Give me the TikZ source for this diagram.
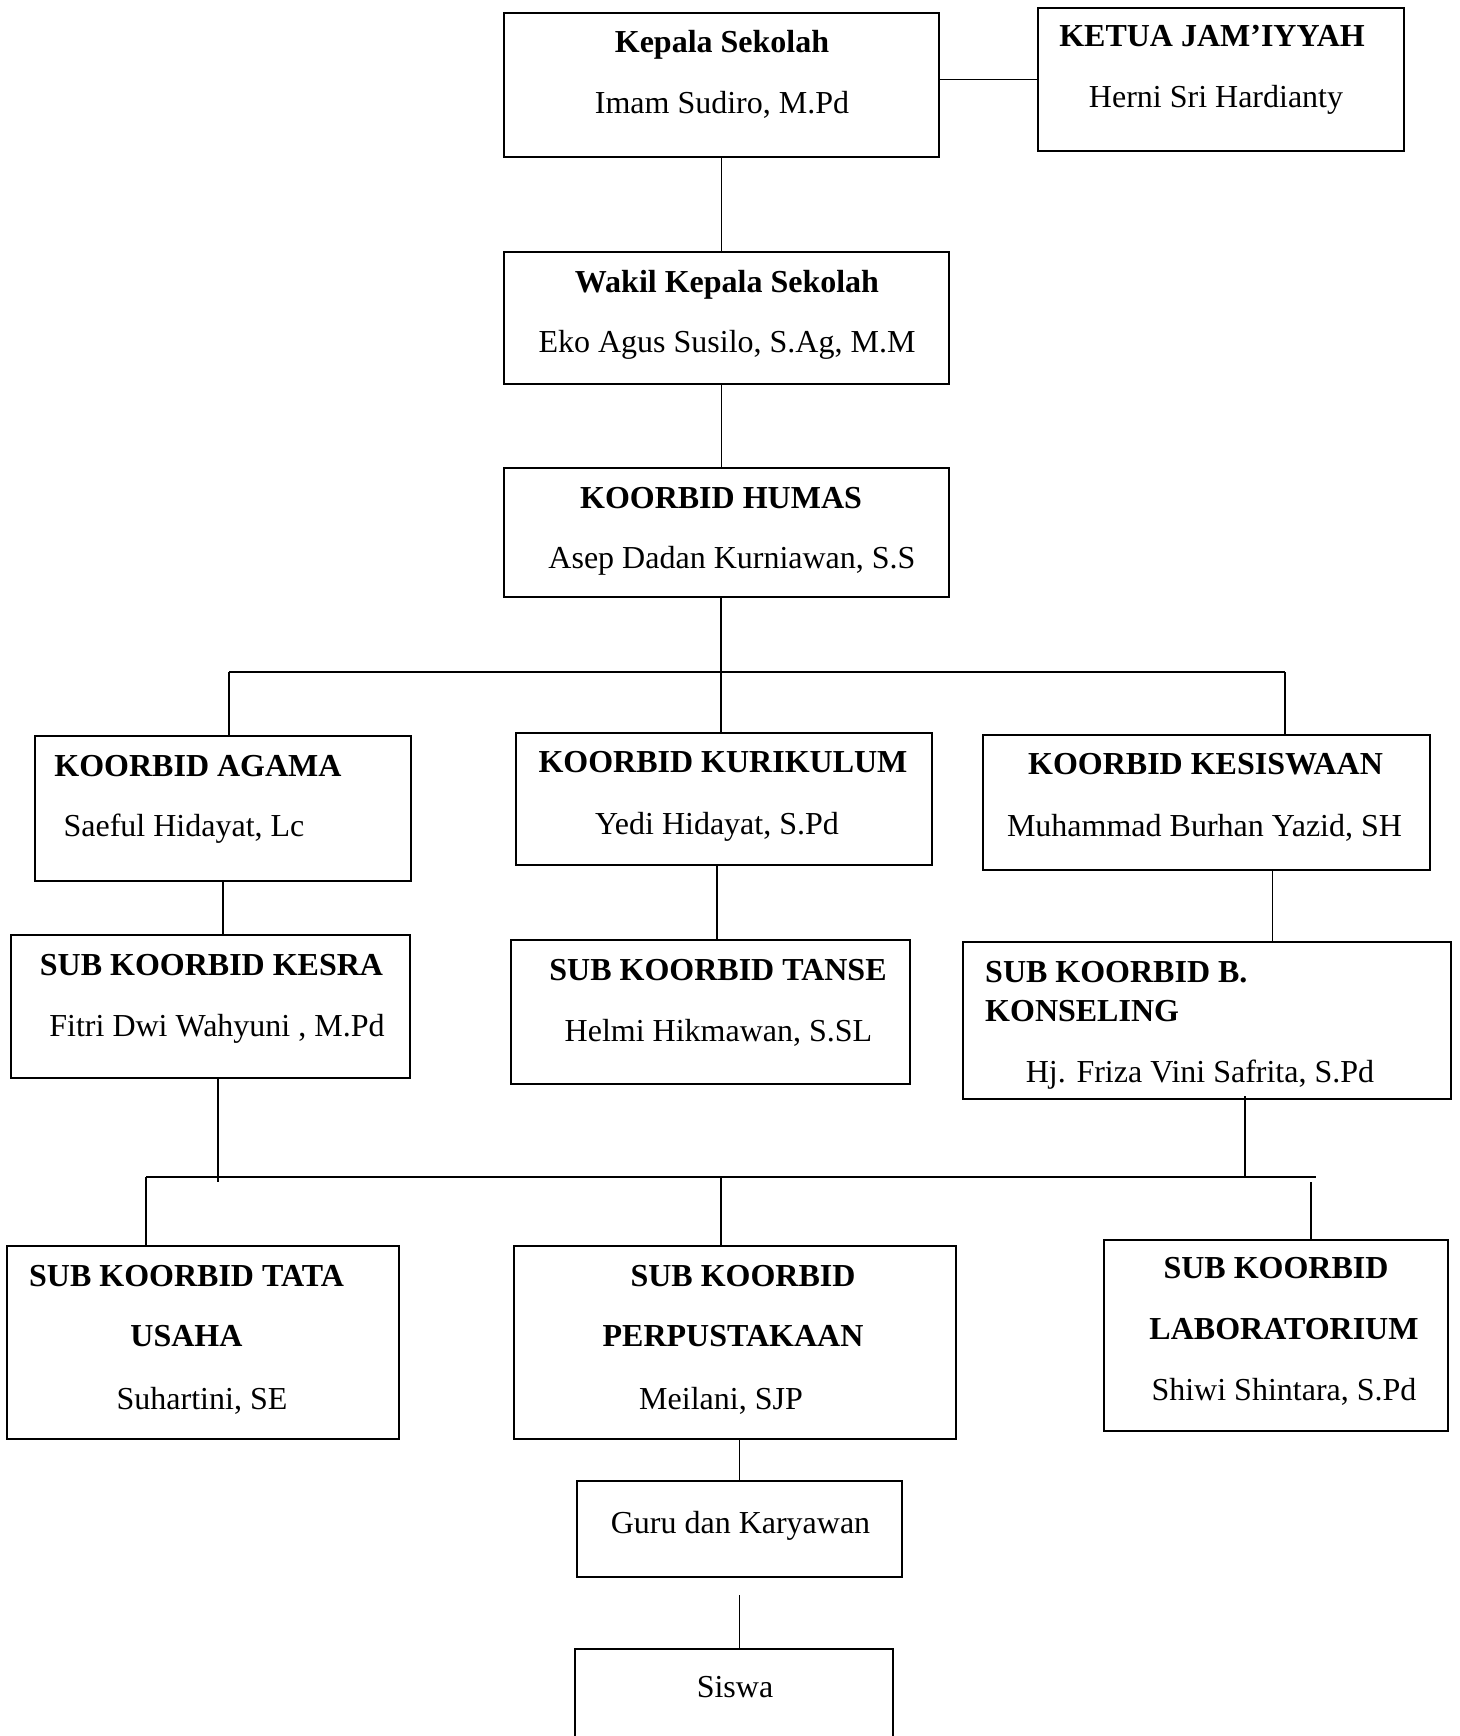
\documentclass[tikz,border=0pt]{standalone}
\usepackage{fontspec}
\setmainfont{Liberation Serif}
\begin{document}
\begin{tikzpicture}[
        x=1pt, y=-1pt,
        box/.style 2 args={draw, line width=2pt, inner sep=0pt, minimum width=#1pt, minimum height=#2pt},
        hd/.style={font=\fontsize{32}{38}\selectfont\bfseries, inner sep=0pt, text height=21pt, text depth=0pt},
        nm/.style={font=\fontsize{32}{38}\selectfont, inner sep=0pt, text height=21pt, text depth=0pt},
        link/.style={draw, line width=1.4pt},
    ]
    \useasboundingbox (0,0) rectangle (1459,1736);

    % pimpinan
    \node[box={435}{144}](kepala) at (721.5,85) {};
    \node[hd](kepala-t) at (722,42) {Kepala Sekolah};
    \node[nm](kepala-n) at (722,103) {Imam Sudiro, M.Pd};
    \node[box={366}{143}](ketua) at (1221,79.5) {};
    \node[hd](ketua-t) at (1212,36.5) {KETUA JAM’IYYAH};
    \node[nm](ketua-n) at (1216,97) {Herni Sri Hardianty};
    \node[box={445}{132}](wakil) at (726.5,318) {};
    \node[hd](wakil-t) at (727,282) {Wakil Kepala Sekolah};
    \node[nm](wakil-n) at (727,342) {Eko Agus Susilo, S.Ag, M.M};
    \node[box={445}{129}](humas) at (726.5,532.5) {};
    \node[hd](humas-t) at (721,498) {KOORBID HUMAS};
    \node[nm](humas-n) at (732,558) {Asep Dadan Kurniawan, S.S};

    % koorbid
    \node[box={376}{145}](agama) at (223,808.5) {};
    \node[hd](agama-t) at (198,766) {KOORBID AGAMA};
    \node[nm](agama-n) at (184,826) {Saeful Hidayat, Lc};
    \node[box={416}{132}](kurikulum) at (724,799) {};
    \node[hd](kurikulum-t) at (723,762) {KOORBID KURIKULUM};
    \node[nm](kurikulum-n) at (717,824) {Yedi Hidayat, S.Pd};
    \node[box={447}{135}](kesiswaan) at (1206.5,802.5) {};
    \node[hd](kesiswaan-t) at (1205.5,764) {KOORBID KESISWAAN};
    \node[nm](kesiswaan-n) at (1204.5,826) {Muhammad Burhan Yazid, SH};

    % sub koorbid
    \node[box={399}{143}](kesra) at (210.5,1006.5) {};
    \node[hd](kesra-t) at (211.5,965) {SUB KOORBID KESRA};
    \node[nm](kesra-n) at (217,1026) {Fitri Dwi Wahyuni , M.Pd};
    \node[box={399}{144}](tanse) at (710.5,1012) {};
    \node[hd](tanse-t) at (718,970) {SUB KOORBID TANSE};
    \node[nm](tanse-n) at (718.5,1031) {Helmi Hikmawan, S.SL};
    \node[box={488}{157}](konseling) at (1207,1020.5) {};
    \node[hd, anchor=west](konseling-t) at (985,972) {SUB KOORBID B.};
    \node[hd, anchor=west](konseling-u) at (985,1011) {KONSELING};
    \node[nm](konseling-n) at (1200,1072) {Hj. Friza Vini Safrita, S.Pd};

    \node[box={392}{193}](tatausaha) at (203,1342.5) {};
    \node[hd](tatausaha-t) at (186.5,1276) {SUB KOORBID TATA};
    \node[hd](tatausaha-u) at (186.5,1336) {USAHA};
    \node[nm](tatausaha-n) at (202,1399) {Suhartini, SE};
    \node[box={442}{193}](perpus) at (735,1342.5) {};
    \node[hd](perpus-t) at (743,1276) {SUB KOORBID};
    \node[hd](perpus-u) at (733,1336) {PERPUSTAKAAN};
    \node[nm](perpus-n) at (721,1399) {Meilani, SJP};
    \node[box={344}{191}](lab) at (1276,1335.5) {};
    \node[hd](lab-t) at (1276,1268) {SUB KOORBID};
    \node[hd](lab-u) at (1284,1329) {LABORATORIUM};
    \node[nm](lab-n) at (1284,1390) {Shiwi Shintara, S.Pd};

    \node[box={325}{96}](guru) at (739.5,1529) {};
    \node[nm](guru-n) at (740.5,1523) {Guru dan Karyawan};
    \node[box={318}{104}](siswa) at (734,1701) {};
    \node[nm](siswa-n) at (735,1687) {Siswa};

    % garis
    \coordinate (bus1) at (721,672);
    \coordinate (bus1l) at (229,672);
    \coordinate (bus1r) at (1285,672);
    \coordinate (bus2l) at (146,1177);
    \coordinate (bus2m) at (721,1177);
    \coordinate (bus2r) at (1316,1177);

    \draw[link] (ketua.west) -- (ketua.west -| kepala.east);
    \draw[link] (kepala.south) -- (kepala.south |- wakil.north);
    \draw[link] (kepala.south |- wakil.south) -- (kepala.south |- humas.north);
    \draw[link] (bus1 |- humas.south) -- (bus1);
    \draw[link] (bus1l) -- (bus1r);
    \draw[link] (bus1l) -- (bus1l |- agama.north);
    \draw[link] (bus1) -- (bus1 |- kurikulum.north);
    \draw[link] (bus1r) -- (bus1r |- kesiswaan.north);
    \draw[link] (agama.south) -- (agama.south |- kesra.north);
    \draw[link] ([xshift=-7pt]kurikulum.south) -- ([xshift=-7pt]kurikulum.south |- tanse.north);
    \draw[link] ([xshift=66pt]kesiswaan.south) -- ([xshift=66pt]kesiswaan.south |- konseling.north);
    \draw[link] ([xshift=7.5pt]kesra.south) -- ([xshift=7.5pt,yshift=-5pt]kesra.south |- bus2l);
    \draw[link] ([xshift=38pt,yshift=4pt]konseling.south) -- ([xshift=38pt]konseling.south |- bus2l);
    \draw[link] (bus2l) -- (bus2r);
    \draw[link] (bus2l) -- (bus2l |- tatausaha.north);
    \draw[link] (bus2m) -- (bus2m |- perpus.north);
    \draw[link] ([xshift=35pt,yshift=-5pt]lab.north |- bus2r) -- ([xshift=35pt]lab.north);
    \draw[link] (guru.north |- perpus.south) -- (guru.north);
    \draw[link] ([yshift=-17pt]guru.south) -- (guru.south |- siswa.north);
\end{tikzpicture}
\end{document}
